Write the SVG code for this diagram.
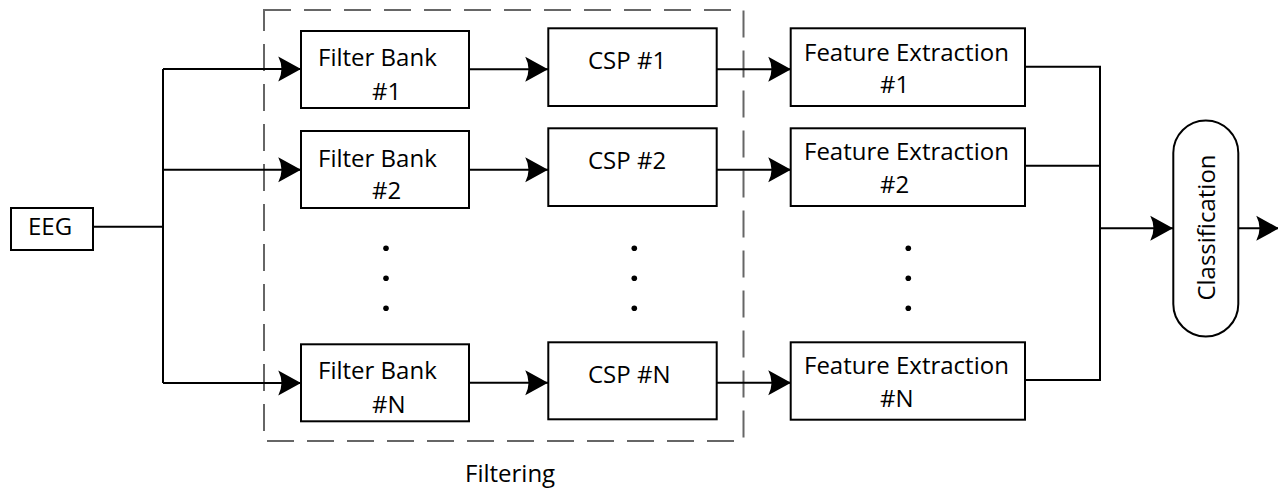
<svg xmlns="http://www.w3.org/2000/svg" width="1278" height="488" viewBox="0 0 1278 488">
<style>
.box{fill:#fff;stroke:#000;stroke-width:2}
.ln{fill:none;stroke:#000;stroke-width:2}
.arr{fill:none;stroke:#000;stroke-width:2;marker-end:url(#ah)}
.t{font-family:"Open Sans","Noto Sans","Liberation Sans",sans-serif;font-size:24px;fill:#000}
.dot{fill:#000}
</style>
<defs>
<marker id="ah" markerUnits="userSpaceOnUse" markerWidth="24" markerHeight="26" viewBox="-21 -12 22 24" refX="0" refY="0" orient="auto">
<path d="M-21,-11.5 L0,0 L-21,11.5 Q-15,0 -21,-11.5 Z" fill="#000"/>
</marker>
</defs>
<rect x="0" y="0" width="1278" height="488" fill="#fff"/>
<g id="filtering-group">
<rect x="264" y="10" width="479.5" height="431" fill="none" stroke="#666" stroke-width="2" stroke-dasharray="27 13"/>
<text class="t" x="465" y="481.5">Filtering</text>
</g>
<g id="connectors">
<polyline class="ln" points="93,226.7 163,226.7"/>
<polyline class="ln" points="163,69 163,383"/>
<polyline class="arr" points="163,69 301,69"/>
<polyline class="arr" points="163,169.7 301,169.7"/>
<polyline class="arr" points="163,383 301,383"/>
<polyline class="arr" points="469,69.3 548,69.3"/>
<polyline class="arr" points="469,169.7 548,169.7"/>
<polyline class="arr" points="469,382.7 548,382.7"/>
<polyline class="arr" points="717,69.3 791,69.3"/>
<polyline class="arr" points="717,169.7 791,169.7"/>
<polyline class="arr" points="717,382.7 791,382.7"/>
<polyline class="ln" points="1025,66.7 1100,66.7 1100,380 1025,380"/>
<polyline class="ln" points="1025,165.7 1100,165.7"/>
<polyline class="arr" points="1100,228.3 1173,228.3"/>
<polyline class="arr" points="1238.5,228.3 1279,228.3"/>
</g>
<g id="eeg">
<rect class="box" x="11" y="208" width="82" height="42"/>
<text class="t" x="28" y="235">EEG</text>
</g>
<g id="fb1">
<rect class="box" x="301" y="31" width="168" height="77"/>
<text class="t" x="318" y="66">Filter Bank</text>
<text class="t" x="372" y="100">#1</text>
</g>
<g id="fb2">
<rect class="box" x="301" y="131" width="168" height="77"/>
<text class="t" x="318" y="166.7">Filter Bank</text>
<text class="t" x="372" y="199.3">#2</text>
</g>
<g id="fbn">
<rect class="box" x="301" y="344.3" width="168" height="77"/>
<text class="t" x="318" y="379">Filter Bank</text>
<text class="t" x="372" y="413">#N</text>
</g>
<g id="csp1">
<rect class="box" x="548.3" y="28.3" width="168.4" height="77.7"/>
<text class="t" x="588" y="69">CSP #1</text>
</g>
<g id="csp2">
<rect class="box" x="548.3" y="128.3" width="168.4" height="77.7"/>
<text class="t" x="588" y="169">CSP #2</text>
</g>
<g id="cspn">
<rect class="box" x="548.3" y="342.3" width="168.4" height="77"/>
<text class="t" x="588" y="383">CSP #N</text>
</g>
<g id="fe1">
<rect class="box" x="790.7" y="28.3" width="234.3" height="77.7"/>
<text class="t" x="804" y="60.5">Feature Extraction</text>
<text class="t" x="880" y="93">#1</text>
</g>
<g id="fe2">
<rect class="box" x="790.7" y="128.3" width="234.3" height="77.7"/>
<text class="t" x="804" y="160">Feature Extraction</text>
<text class="t" x="880" y="193">#2</text>
</g>
<g id="fen">
<rect class="box" x="790.7" y="342.3" width="234.3" height="77.4"/>
<text class="t" x="804" y="374">Feature Extraction</text>
<text class="t" x="880" y="406.7">#N</text>
</g>
<g id="dots">
<circle class="dot" cx="386" cy="248.3" r="2.8"/>
<circle class="dot" cx="386" cy="278.3" r="2.8"/>
<circle class="dot" cx="386" cy="308.3" r="2.8"/>
<circle class="dot" cx="634.3" cy="248.3" r="2.8"/>
<circle class="dot" cx="634.3" cy="278.3" r="2.8"/>
<circle class="dot" cx="634.3" cy="308.3" r="2.8"/>
<circle class="dot" cx="908.3" cy="248.3" r="2.8"/>
<circle class="dot" cx="908.3" cy="278.3" r="2.8"/>
<circle class="dot" cx="908.3" cy="308.3" r="2.8"/>
</g>
<g id="classification">
<rect class="box" x="1173.3" y="120.5" width="65" height="216" rx="32.5" ry="32.5"/>
<text class="t" text-anchor="middle" transform="translate(1215,227.5) rotate(-90)">Classification</text>
</g>
</svg>
